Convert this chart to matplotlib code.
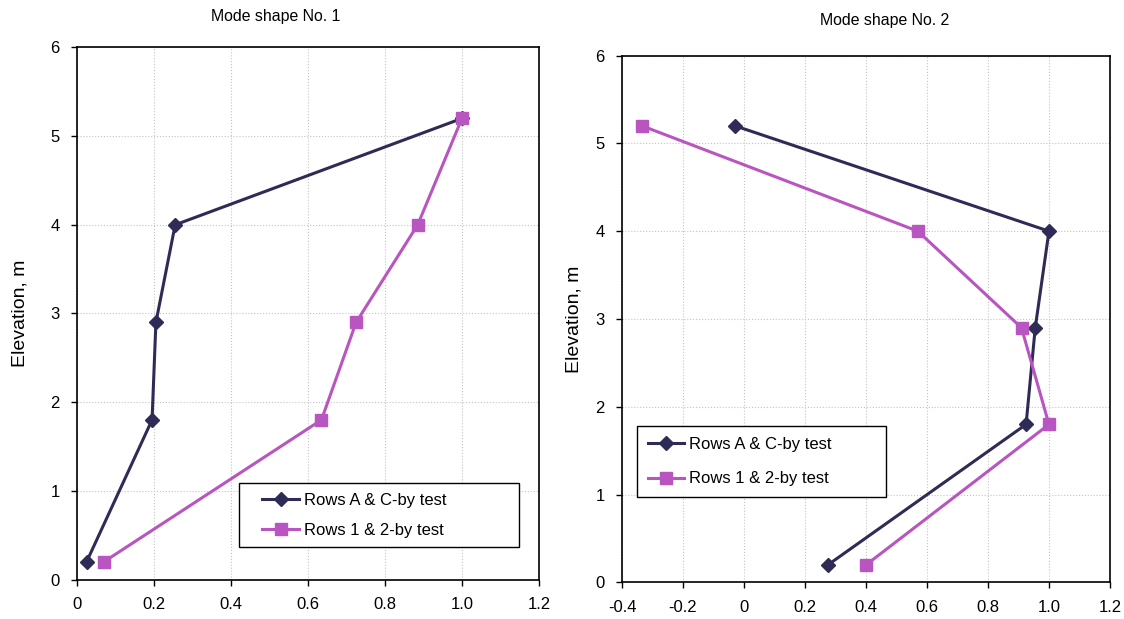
import matplotlib
matplotlib.use("Agg")
import numpy as np
import matplotlib.pyplot as plt
from matplotlib.legend_handler import HandlerLine2D

plt.rcParams['font.family'] = ['Liberation Sans', 'DejaVu Sans']

elev = [0.2, 1.8, 2.9, 4.0, 5.2]
m1_ac = [0.025, 0.195, 0.205, 0.255, 1.0]
m1_12 = [0.07, 0.635, 0.725, 0.885, 1.0]
m2_ac = [0.275, 0.925, 0.955, 1.0, -0.03]
m2_12 = [0.40, 1.0, 0.91, 0.57, -0.335]

lbl_ac = "Rows A & C-by test"
lbl_12 = "Rows 1 & 2-by test"
c_ac = "#2F2B57"
c_12 = "#B855C0"


class OffsetHandler(HandlerLine2D):
    def __init__(self, offset_frac=0.0, **kw):
        super().__init__(**kw)
        self.offset_frac = offset_frac

    def get_xdata(self, legend, xdescent, ydescent, width, height, fontsize):
        x0 = -xdescent + self.offset_frac * width
        x1 = -xdescent + width
        return np.array([x0, x1]), np.array([0.5 * (x0 + x1)])


fig = plt.figure(figsize=(11.24, 6.19), dpi=100)
ax1 = fig.add_axes([0.0685, 0.0638, 0.411, 0.8595])
ax2 = fig.add_axes([0.5534, 0.059, 0.4341, 0.8513])


def style(ax, xlim, xticks, xlabels, ylab_x):
    ax.set_xlim(*xlim)
    ax.set_ylim(0, 6)
    ax.set_xticks(xticks)
    ax.set_xticklabels(xlabels)
    ax.set_yticks(range(7))
    ax.grid(True, color="#C4C4C4", linestyle=":", linewidth=0.8)
    ax.tick_params(direction="out", length=4.5, width=1, labelsize=12, pad=8, colors="black")
    for s in ax.spines.values():
        s.set_linewidth(1.2)
    ax.set_ylabel("Elevation, m", fontsize=14)
    ax.yaxis.set_label_coords(ylab_x, 0.5)


for ax, ac, r12 in [(ax1, m1_ac, m1_12), (ax2, m2_ac, m2_12)]:
    ax.plot(ac, elev, color=c_ac, marker="D", markersize=7, linewidth=2.2, label=lbl_ac, zorder=3)
    ax.plot(r12, elev, color=c_12, marker="s", markersize=8.5, linewidth=2.2, label=lbl_12, zorder=3)

style(ax1, (0, 1.2), [0, 0.2, 0.4, 0.6, 0.8, 1.0, 1.2],
      ["0", "0.2", "0.4", "0.6", "0.8", "1.0", "1.2"], -0.106)
style(ax2, (-0.4, 1.2), [-0.4, -0.2, 0, 0.2, 0.4, 0.6, 0.8, 1.0, 1.2],
      ["-0.4", "-0.2", "0", "0.2", "0.4", "0.6", "0.8", "1.0", "1.2"], -0.08)

fig.text(276 / 1124, 1 - 17 / 619, "Mode shape No. 1", fontsize=11.4, ha="center", va="center")
fig.text(885 / 1124, 1 - 21 / 619, "Mode shape No. 2", fontsize=11.4, ha="center", va="center")

legend_specs = [
    (ax1, (0.351, 0.061, 0.606, 0.12), 0.55, 0.92, 3.06, 0.27),
    (ax2, (0.031, 0.162, 0.51, 0.135), 0.64, 1.16, 2.2, 0.0),
]
for ax, bb, bp, ls, hl, off in legend_specs:
    h, l = ax.get_legend_handles_labels()
    leg = ax.legend(h, l, loc="lower left", bbox_to_anchor=bb, mode="expand", fontsize=12,
                    frameon=True, fancybox=False, edgecolor="black", framealpha=1,
                    handlelength=hl, handletextpad=0.3, labelspacing=ls, borderpad=bp,
                    borderaxespad=0,
                    handler_map={hh: OffsetHandler(offset_frac=off) for hh in h})
    leg.get_frame().set_linewidth(1.0)

fig.savefig("out.png", dpi=100)
